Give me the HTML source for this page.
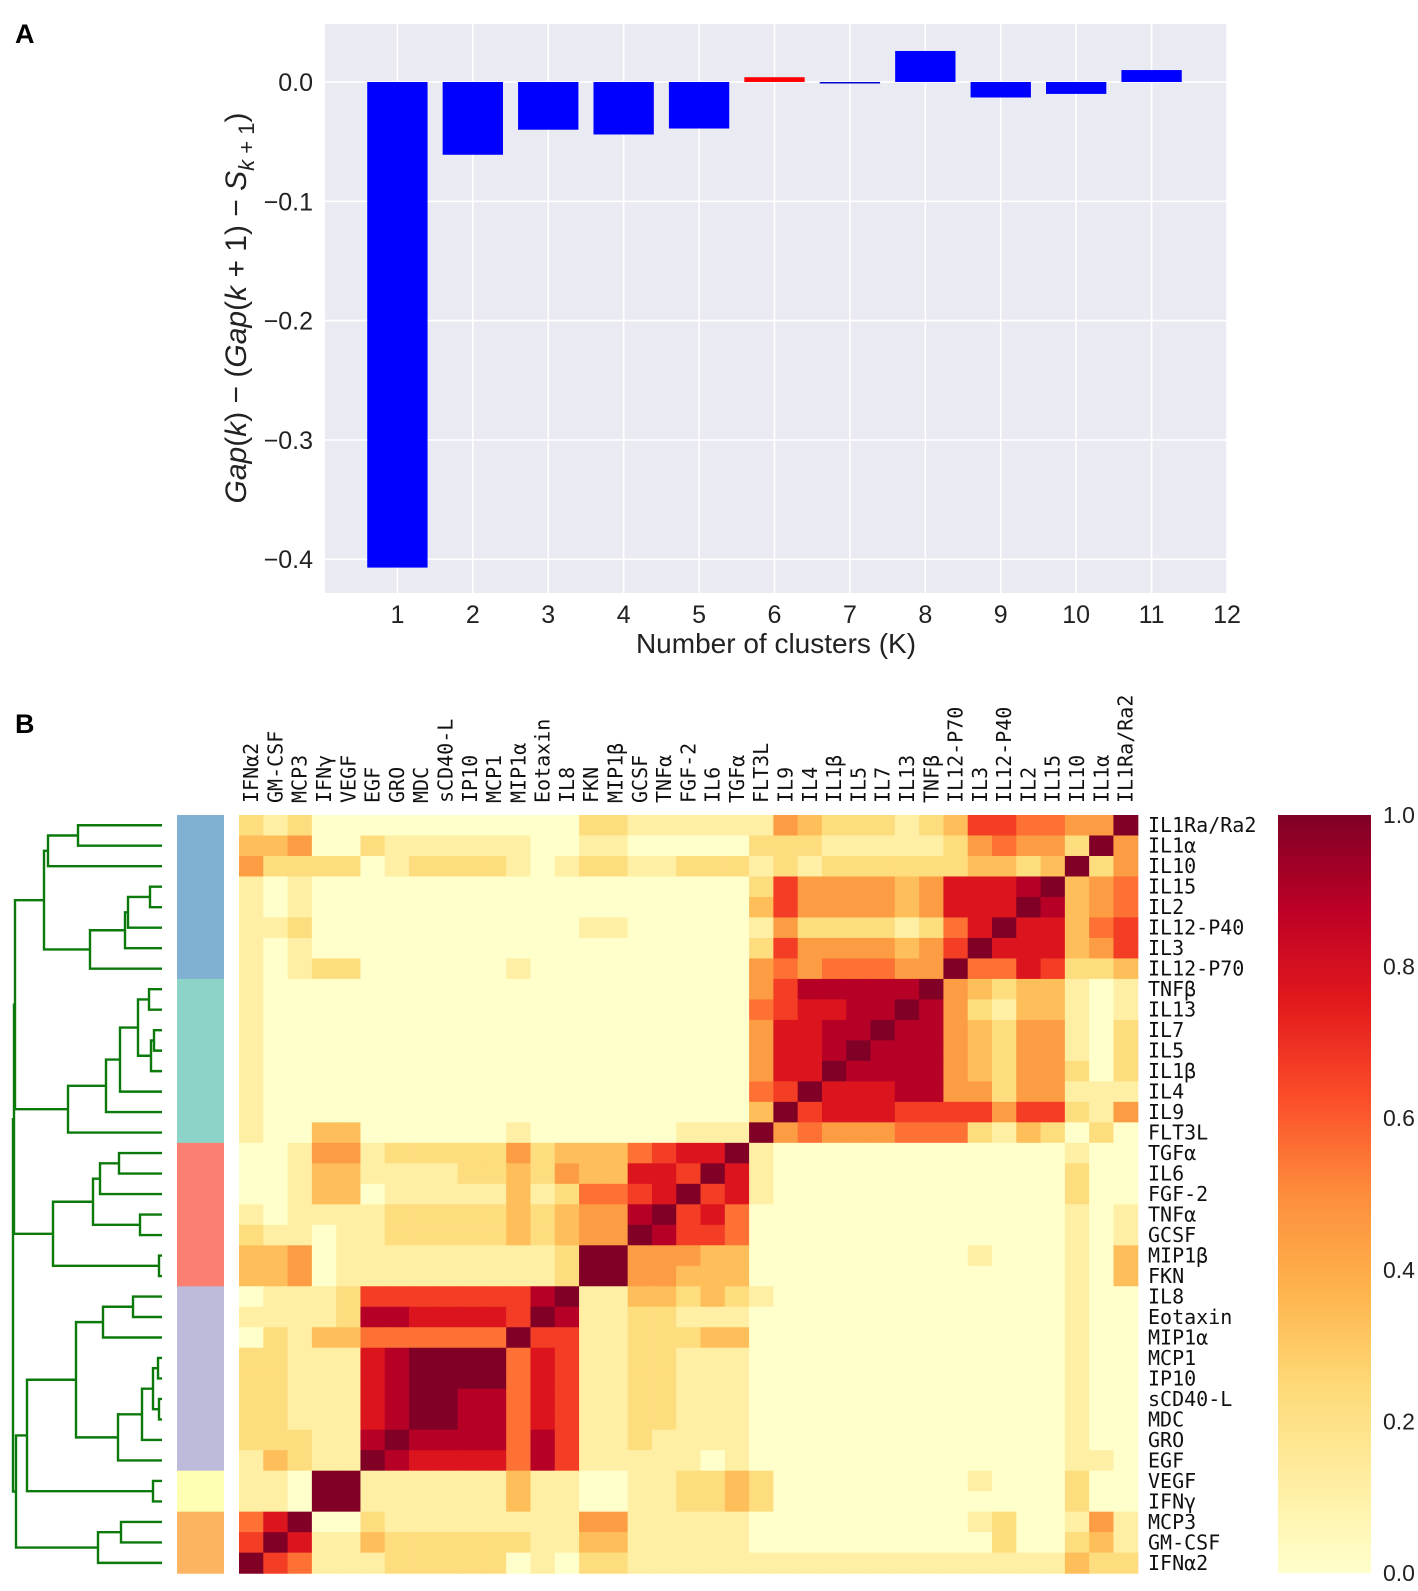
<!DOCTYPE html>
<html><head><meta charset="utf-8"><style>
html,body{margin:0;padding:0;background:#fff;}
svg{display:block;}
text{font-family:"Liberation Sans",Arial,sans-serif;}
.mono{font-family:"DejaVu Sans Mono","Liberation Mono",monospace;}
</style></head><body>
<svg id="fig" width="1418" height="1591" viewBox="0 0 1418 1591" xmlns="http://www.w3.org/2000/svg">
<text x="15" y="43" font-size="27" font-weight="bold">A</text>
<text x="15" y="733" font-size="27" font-weight="bold">B</text>
<g id="panelA"></g>
<g id="panelB"></g>
</svg>
<script>
// ---------- Panel A data ----------
const kValues = [1,2,3,4,5,6,7,8,9,10,11];
const gapDiff = [-0.407,-0.061,-0.040,-0.044,-0.039,0.004,-0.001,0.026,-0.013,-0.010,0.010];
const barColors = ['#0000ff','#0000ff','#0000ff','#0000ff','#0000ff','#ff0000','#0000cc','#0000ff','#0000ff','#0000ff','#0000ff'];
const xTicks = [1,2,3,4,5,6,7,8,9,10,11,12];
const yTicks = [0.0,-0.1,-0.2,-0.3,-0.4];
const yTickLabels = ['0.0','\u22120.1','\u22120.2','\u22120.3','\u22120.4'];

// ---------- Panel B data ----------
const rowLabels = ['IL1Ra/Ra2','IL1\u03b1','IL10','IL15','IL2','IL12-P40','IL3','IL12-P70','TNF\u03b2','IL13','IL7','IL5','IL1\u03b2','IL4','IL9','FLT3L','TGF\u03b1','IL6','FGF-2','TNF\u03b1','GCSF','MIP1\u03b2','FKN','IL8','Eotaxin','MIP1\u03b1','MCP1','IP10','sCD40-L','MDC','GRO','EGF','VEGF','IFN\u03b3','MCP3','GM-CSF','IFN\u03b12'];
const colLabels = rowLabels.slice().reverse();
// correlation values, digit d => d/9, rows top->bottom, cols left->right
const corrRows = [
"212 00000000000 22 11 111 1 4 322212 3 66 55 44 9",
"334 00 2 11111 100 11 00 000 2 2 2 11111 2 4 5 4 4 2 9 4",
"422 22 0 1 2222 101 22 11 222 1 2 1 22222 2 3 3 2 3 9 2 4",
"101 000000000000000000 2 6 444434 7778 9 3 4 5",
"101 000000000000000000 3 6 444434 7779 8 3 4 5",
"112 00000000000 11 00000 1 4 222212 5797 7 3 5 6",
"101 000000000000000000 2 6 444434 6977 7 3 4 6",
"101 22 000000 1 00 0000000 4 5 455544 9557 6 2 2 3",
"100 000000000000000000 4 6 888889 4323 3 1 0 1",
"100 000000000000000000 5 6 778898 4213 3 1 0 1",
"100 000000000000000000 4 7 788988 4324 4 1 0 2",
"100 000000000000000000 4 7 789888 4324 4 1 0 2",
"100 000000000000000000 4 7 798888 4324 4 2 0 2",
"100 000000000000000000 5 6 977788 4424 4 1 1 1",
"100 000000000000000000 3 9 677766 6646 6 2 1 4",
"100 33 000000 1 00 0000 111 9 4 544455 5213 2 0 2 0",
"001 44 1 22222 4 2 3 3 3 5 6 7 7 9 1 000000000000 1 0 0",
"001 33 1 11122 3 2 4 3 3 7 7 6 9 7 1 000000000000 2 0 0",
"001 33 0 11111 3 1 2 5 5 6 7 9 6 7 1 000000000000 2 0 0",
"101 11 1 22222 3 2 3 4 4 8 9 6 7 5 0 000000000000 1 0 1",
"211 01 1 22222 3 2 3 4 4 9 8 6 6 5 0 000000000000 1 0 1",
"334 01 1 11111 1 1 2 9 9 4 4 4 3 3 0 000000001000 1 0 3",
"334 01 1 11111 1 1 2 9 9 4 4 3 3 3 0 000000000000 1 0 3",
"011 12 6 66666 6 8 9 1 1 3 3 2 3 2 1 000000000000 1 0 0",
"111 12 8 87777 6 9 8 1 1 2 2 1 1 1 0 000000000000 1 0 0",
"021 33 5 55555 9 6 6 1 1 2 2 2 3 3 0 000000000000 1 0 0",
"221 11 7 89999 5 7 6 1 1 2 2 1 1 1 0 000000000000 1 0 0",
"221 11 7 89999 5 7 6 1 1 2 2 1 1 1 0 000000000000 1 0 0",
"221 11 7 89988 5 7 6 1 1 2 2 1 1 1 0 000000000000 1 0 0",
"221 11 7 89988 5 7 6 1 1 2 2 1 1 1 0 000000000000 1 0 0",
"222 11 8 98888 5 8 6 1 1 2 1 1 1 1 0 000000000000 1 0 0",
"132 11 9 87777 5 8 6 1 1 1 1 1 0 1 0 000000000000 1 1 0",
"110 99 1 11111 3 1 1 0 0 1 1 2 2 3 2 000000001000 2 0 0",
"110 99 1 11111 3 1 1 0 0 1 1 2 2 3 2 000000000000 2 0 0",
"579 00 2 11111 1 1 1 4 4 1 1 1 1 1 0 000000001200 1 4 1",
"697 11 3 22222 2 1 1 3 3 1 1 1 1 1 0 000000000200 2 3 1",
"965 11 1 22222 0 1 0 2 2 1 1 1 1 1 1 111111111111 3 2 2"
];
const clusterColors = ['#80b1d3','#8dd3c7','#fb8072','#bebada','#ffffb3','#fdb462'];
const clusterOf = [0,0,0,0,0,0,0,0,1,1,1,1,1,1,1,1,2,2,2,2,2,2,2,3,3,3,3,3,3,3,3,3,4,4,5,5,5];
const cbTicks = [0.0,0.2,0.4,0.6,0.8,1.0];
const cbTickLabels = ['0.0','0.2','0.4','0.6','0.8','1.0'];
// dendrogram: [left, right, mergeHeightPx]
const blueTree = [[[0,1,78],2,48],[[[[3,4,150],5,128],6,125],7,90],44];
const tealTree = [[[[[8,9,149],[[10,11,154],12,151],138],13,120],14,106],15,68];
const redTree = [[[[16,17,119],18,100],[19,20,140],93],[21,22,159],53];
const purpleTree = [[[23,24,133],25,103],[[[[26,27,158],[28,29,159],153],30,142],31,118],76];
const tree = [[[blueTree,tealTree,15],redTree,14],[[purpleTree,[32,33,153],27],[[34,35,121],36,98],16],13];

const NS='http://www.w3.org/2000/svg';
function mk(tag,attrs,parent){const e=document.createElementNS(NS,tag);for(const k in attrs)e.setAttribute(k,attrs[k]);parent.appendChild(e);return e;}

// ===== Panel A =====
(function(){
const g=document.getElementById('panelA');
const L=325,R=1227,T=24,B=593;
const xMin=0.04,xMax=12, yMax=0.0486, yMin=-0.4283;
const xs=v=>L+(v-xMin)/(xMax-xMin)*(R-L);
const ys=v=>T+(yMax-v)/(yMax-yMin)*(B-T);
const bg=mk('rect',{x:L,y:T,width:R-L,height:B-T,fill:'#eaeaf2'},g);


xTicks.forEach(t=>{
 const ln=mk('line',{x1:xs(t),x2:xs(t),y1:T,y2:B,stroke:'#fff','stroke-width':1.6},g);
 
 
 const tx=mk('text',{x:xs(t),y:623,'font-size':25,'text-anchor':'middle',fill:'#222'},g);
 
 
 tx.textContent=t;
});
yTicks.forEach((t,i)=>{
 const ln=mk('line',{x1:L,x2:R,y1:ys(t),y2:ys(t),stroke:'#fff','stroke-width':1.6},g);
 
 
 const tx=mk('text',{x:313,y:ys(t)+9,'font-size':25,'text-anchor':'end',fill:'#222'},g);
 
 
 tx.textContent=yTickLabels[i];
});
kValues.forEach((k,i)=>{
 const v=gapDiff[i];
 const y0=ys(Math.max(v,0)), y1=ys(Math.min(v,0));
 const r=mk('rect',{x:xs(k-0.4),y:y0,width:xs(k+0.4)-xs(k-0.4),height:Math.max(y1-y0,1.5),fill:barColors[i]},g);
 
 
});
const xl=mk('text',{x:(L+R)/2,y:653,'font-size':28,'text-anchor':'middle',fill:'#222'},g);


xl.textContent='Number of clusters (K)';
const yl=mk('text',{x:0,y:0,'font-size':30,'text-anchor':'middle',fill:'#222',transform:'translate(246,308) rotate(-90)'},g);


yl.innerHTML='<tspan font-style="italic">Gap</tspan>(<tspan font-style="italic">k</tspan>) \u2212 (<tspan font-style="italic">Gap</tspan>(<tspan font-style="italic">k</tspan> + 1) \u2212 <tspan font-style="italic">S</tspan><tspan font-size="22" dy="8"><tspan font-style="italic">k</tspan> + 1</tspan><tspan dy="-8">)</tspan>';
})();

// ===== Panel B =====
(function(){
const g=document.getElementById('panelB');
const HX=239,HY=815,CW=24.29,RH=20.49,N=rowLabels.length;
const stops=['#ffffcc','#ffeda0','#fed976','#feb24c','#fd8d3c','#fc4e2a','#e31a1c','#bd0026','#800026'];
function hex(c){return [1,3,5].map(i=>parseInt(c.substr(i,2),16));}
function cmap(v){v=Math.max(0,Math.min(1,v));const p=v*8,i=Math.min(7,Math.floor(p)),f=p-i;const a=hex(stops[i]),b=hex(stops[i+1]);return 'rgb('+a.map((x,j)=>Math.round(x+(b[j]-x)*f)).join(',')+')';}
const M=corrRows.map(s=>{const d=(s.replace(/\s/g,'')+'0'.repeat(37)).slice(0,N);return d.split('').map(ch=>(+ch)/9);});
for(let r=0;r<N;r++)for(let c=0;c<N;c++){
 const rc=mk('rect',{x:HX+c*CW,y:HY+r*RH,width:CW+0.6,height:RH+0.6,fill:cmap(M[r][c])},g);
 
 
}
rowLabels.forEach((l,r)=>{
 const t=mk('text',{x:1148,y:HY+(r+0.5)*RH,'font-size':20,'dominant-baseline':'central',class:'mono',fill:'#111'},g);
 
 
 t.textContent=l;
});
colLabels.forEach((l,c)=>{
 const cx=HX+(c+0.5)*CW;
 const t=mk('text',{x:0,y:0,'font-size':20,'dominant-baseline':'central',class:'mono',fill:'#111',transform:'translate('+cx+',803) rotate(-90)'},g);
 
 
 t.textContent=l;
});
clusterOf.forEach((k,r)=>{
 const s=mk('rect',{x:177,y:HY+r*RH,width:47,height:RH+0.6,fill:clusterColors[k]},g);
 
 
});
const LEAFX=162;
function draw(node){
 if(typeof node==='number')return {x:LEAFX,y:HY+(node+0.5)*RH};
 const a=draw(node[0]),b=draw(node[1]),h=node[2];
 const p=mk('path',{d:'M'+a.x+','+a.y+'H'+h+'V'+b.y+'H'+b.x,fill:'none',stroke:'#0b7a0b','stroke-width':2.4},g);
 
 
 return {x:h,y:(a.y+b.y)/2};
}
draw(tree);
const defs=mk('defs',{},g);
const lg=mk('linearGradient',{id:'cbg',x1:0,y1:1,x2:0,y2:0},defs);
stops.forEach((s,i)=>mk('stop',{offset:(i/8),'stop-color':s},lg));
const CBX=1278,CBW=93,CBT=815,CBB=1573;
const cb=mk('rect',{x:CBX,y:CBT,width:CBW,height:CBB-CBT,fill:'url(#cbg)'},g);


cbTicks.forEach((t,i)=>{
 const y=CBB-t*(CBB-CBT);
 const tx=mk('text',{x:1383,y:y+8,'font-size':23,fill:'#222'},g);
 
 
 tx.textContent=cbTickLabels[i];
});
})();
</script>
</body></html>
